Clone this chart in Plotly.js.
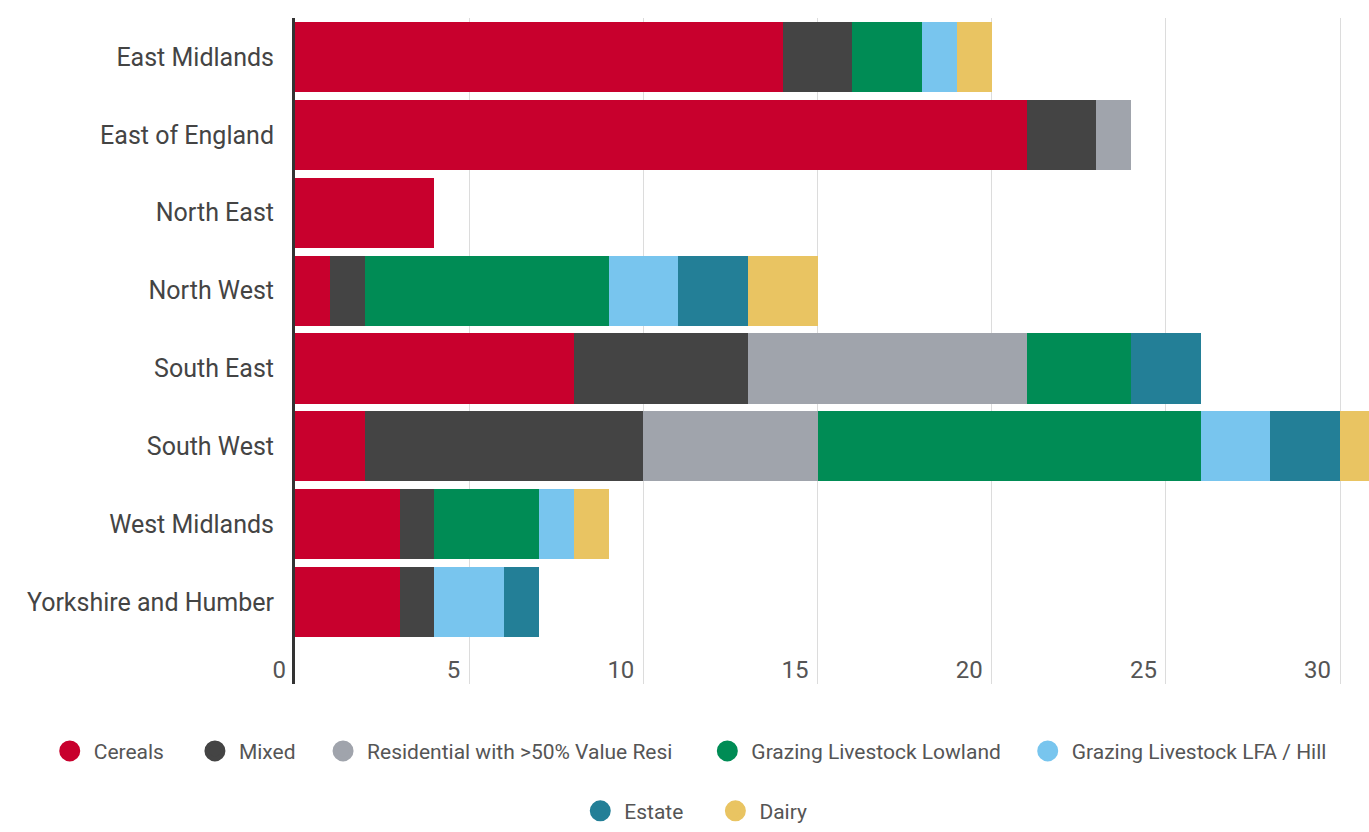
<!DOCTYPE html>
<html>
<head>
<meta charset="utf-8">
<script src="https://cdn.plot.ly/plotly-3.0.1.min.js"></script>
<style>html,body{margin:0;padding:0;background:#fff;}#chart{width:1369px;height:832px;}</style>
</head>
<body>
<div id="chart"></div>
<script>
const regions = ["East Midlands","East of England","North East","North West","South East","South West","West Midlands","Yorkshire and Humber"];
const seriesNames = ["Cereals","Mixed","Residential with >50% Value Resi","Grazing Livestock Lowland","Grazing Livestock LFA / Hill","Estate","Dairy"];
const cereals     = [14, 21, 4, 1, 8, 2, 3, 3];
const mixed       = [2, 2, 0, 1, 5, 8, 1, 1];
const residential = [0, 1, 0, 0, 8, 5, 0, 0];
const lowland     = [2, 0, 0, 7, 3, 11, 3, 0];
const lfaHill     = [1, 0, 0, 2, 0, 2, 1, 2];
const estate      = [0, 0, 0, 2, 2, 2, 0, 1];
const dairy       = [1, 0, 0, 2, 0, 2, 1, 0];
const xTicks = [0, 5, 10, 15, 20, 25, 30];

const seriesValues = [cereals, mixed, residential, lowland, lfaHill, estate, dairy];
const colors = ["#C8002D","#444444","#A0A4AC","#008C55","#78C5EE","#237F97","#E9C462"];
// legend placement (paper x of each entry's left edge, paper y of its row)
const legendX = [-0.2321, -0.0969, 0.0224, 0.3802, 0.6785, 0.2619, 0.3877];
const legendY = [-0.101, -0.101, -0.101, -0.101, -0.101, -0.191, -0.191];

const legendFont = {family: "Roboto, sans-serif", size: 21, color: "#555"};
const traces = [];
seriesValues.forEach((vals, i) => {
  traces.push({
    type: "bar", orientation: "h", name: seriesNames[i],
    y: regions, x: vals,
    marker: {color: colors[i], line: {width: 0}},
    showlegend: false, hoverinfo: "x+name"
  });
});

const layout = {
  width: 1369, height: 832,
  margin: {l: 295, r: 0, t: 18, b: 146},
  barmode: "stack", bargap: 0.1,
  paper_bgcolor: "#fff", plot_bgcolor: "#fff",
  font: {family: "Roboto, sans-serif", color: "#555"},
  xaxis: {
    range: [0, 30.83], tickvals: xTicks, ticktext: xTicks.map(String),
    showgrid: true, gridcolor: "#dcdcdc", gridwidth: 1, zeroline: false,
    showline: false, ticks: "",
    ticklabelposition: "outside left", ticklabelstandoff: -31, ticklabelshift: -9,
    tickfont: {family: "Roboto, sans-serif", size: 24, color: "#555"},
    fixedrange: true
  },
  yaxis: {
    type: "category", categoryorder: "array", categoryarray: regions,
    range: [8.05, -0.5],
    showgrid: false, zeroline: false,
    showline: true, linecolor: "#333", linewidth: 3,
    ticks: "", ticklabelstandoff: 13,
    tickfont: {family: "Roboto, sans-serif", size: 25, color: "#444"},
    fixedrange: true
  },
  showlegend: true
};

seriesValues.forEach((vals, i) => {
  const key = i === 0 ? "legend" : "legend" + (i + 1);
  traces.push({
    type: "scatter", mode: "markers", name: seriesNames[i],
    x: [null], y: [null],
    marker: {symbol: "circle", size: 16, color: colors[i], line: {color: colors[i], width: 5}},
    legend: key, showlegend: true, hoverinfo: "skip"
  });
  layout[key] = {
    orientation: "h", itemwidth: 38,
    x: legendX[i], xanchor: "left", y: legendY[i], yanchor: "middle",
    font: legendFont, itemclick: false, itemdoubleclick: false,
    bgcolor: "rgba(0,0,0,0)"
  };
});

Plotly.newPlot("chart", traces, layout, {displayModeBar: false});
</script>
</body>
</html>
